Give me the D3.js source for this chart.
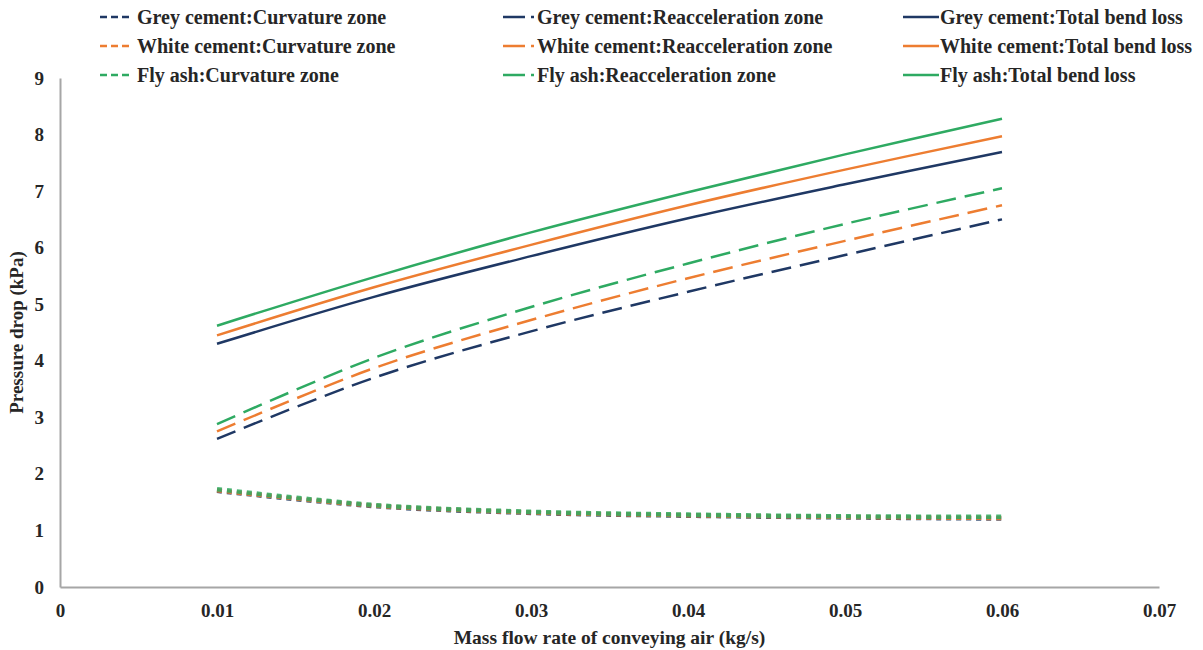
<!DOCTYPE html>
<html>
<head>
<meta charset="utf-8">
<script src="https://cdn.jsdelivr.net/npm/d3@7"></script>
<style>
  body { margin: 0; background: #fff; }
  svg { display: block; }
  text { font-family: "Liberation Serif", "Times New Roman", serif; font-weight: bold; fill: #262626; }
</style>
</head>
<body>
<svg id="chart" width="1203" height="650"></svg>
<script>
// Mass flow rate of conveying air (kg/s)
const massFlow = [0.01, 0.02, 0.03, 0.04, 0.05, 0.06];

// Pressure drop (kPa) per material and bend zone
const greyCurvature   = [2.62, 3.70, 4.52, 5.22, 5.87, 6.50];
const whiteCurvature  = [2.75, 3.87, 4.72, 5.46, 6.12, 6.75];
const flyCurvature    = [2.88, 4.05, 4.95, 5.72, 6.42, 7.05];

const greyReaccel     = [1.70, 1.43, 1.31, 1.26, 1.23, 1.21];
const whiteReaccel    = [1.71, 1.44, 1.32, 1.27, 1.24, 1.22];
const flyReaccel      = [1.73, 1.45, 1.33, 1.28, 1.25, 1.24];

const greyTotal       = [4.30, 5.13, 5.85, 6.52, 7.12, 7.69];
const whiteTotal      = [4.45, 5.30, 6.05, 6.75, 7.38, 7.97];
const flyTotal        = [4.62, 5.48, 6.27, 6.98, 7.65, 8.28];

const xTicks = [0, 0.01, 0.02, 0.03, 0.04, 0.05, 0.06, 0.07];
const yTicks = [0, 1, 2, 3, 4, 5, 6, 7, 8, 9];

const colGrey = "#1f3864", colWhite = "#ed7d31", colFly = "#2eaa62";

const series = [
  { name: "Grey cement:Curvature zone",      values: greyCurvature, color: colGrey,  kind: "dash" },
  { name: "White cement:Curvature zone",     values: whiteCurvature, color: colWhite, kind: "dash" },
  { name: "Fly ash:Curvature zone",          values: flyCurvature,  color: colFly,   kind: "dash" },
  { name: "Grey cement:Reacceleration zone", values: greyReaccel,   color: colGrey,  kind: "dot" },
  { name: "White cement:Reacceleration zone",values: whiteReaccel,  color: colWhite, kind: "dot" },
  { name: "Fly ash:Reacceleration zone",     values: flyReaccel,    color: colFly,   kind: "dot" },
  { name: "Grey cement:Total bend loss",     values: greyTotal,     color: colGrey,  kind: "solid" },
  { name: "White cement:Total bend loss",    values: whiteTotal,    color: colWhite, kind: "solid" },
  { name: "Fly ash:Total bend loss",         values: flyTotal,      color: colFly,   kind: "solid" }
];

const svg = d3.select("#chart");
const plotLeft = 60, plotRight = 1159, plotTop = 78, plotBottom = 587;

const x = d3.scaleLinear().domain([0, 0.07]).range([plotLeft, plotRight]);
const y = d3.scaleLinear().domain([0, 9]).range([plotBottom, plotTop]);

// Axes: grey spines, no tick marks
const xAxis = svg.append("g").attr("transform", `translate(0,${plotBottom})`)
  .call(d3.axisBottom(x).tickValues(xTicks).tickSize(0).tickPadding(17)
        .tickFormat(d => d === 0 ? "0" : d3.format(".2f")(d)));
const yAxis = svg.append("g").attr("transform", `translate(${plotLeft},0)`)
  .call(d3.axisLeft(y).tickValues(yTicks).tickSize(0).tickPadding(16).tickFormat(d3.format("d")));
[xAxis, yAxis].forEach(g => {
  g.select(".domain").attr("stroke", "#a6a6a6").attr("stroke-width", 2);
  g.selectAll("text").style("font-size", "19px").attr("fill", "#262626")
    .style("font-family", '"Liberation Serif", serif').style("font-weight", "bold");
});

svg.append("text")
  .attr("x", (plotLeft + plotRight) / 2).attr("y", 644)
  .attr("text-anchor", "middle").style("font-size", "19.5px")
  .text("Mass flow rate of conveying air (kg/s)");

svg.append("text")
  .attr("transform", `translate(23,${(plotTop + plotBottom) / 2}) rotate(-90)`)
  .attr("text-anchor", "middle").style("font-size", "19px")
  .text("Pressure drop (kPa)");

// Lines
const line = d3.line()
  .x((d, i) => x(massFlow[i]))
  .y(d => y(d))
  .curve(d3.curveCatmullRom.alpha(0.5));

const styleFor = {
  dash:  { width: 2.5, dash: "20,9" },
  dot:   { width: 4.5, dash: "5,5" },
  solid: { width: 2.5, dash: null }
};

svg.append("g").selectAll("path")
  .data(series)
  .join("path")
  .attr("d", d => line(d.values))
  .attr("fill", "none")
  .attr("stroke", d => d.color)
  .attr("stroke-width", d => styleFor[d.kind].width)
  .attr("stroke-dasharray", d => styleFor[d.kind].dash)
  .attr("stroke-opacity", d => d.kind === "dot" ? 0.85 : 1);

// Legend: three columns (curvature, reacceleration, total)
const legendCols = { dash: 100, dot: 503, solid: 903 };
const legendRows = [17, 46, 75];
const legend = svg.append("g");
series.forEach((s, i) => {
  const row = legendRows[i % 3];
  const x0 = legendCols[s.kind];
  const g = legend.append("g");
  let textX;
  if (s.kind === "dash") {
    g.append("line").attr("x1", x0).attr("x2", x0 + 32).attr("y1", row).attr("y2", row)
      .attr("stroke", s.color).attr("stroke-width", 2.5).attr("stroke-dasharray", "7,4");
    textX = x0 + 37;
  } else if (s.kind === "dot") {
    g.append("line").attr("x1", x0).attr("x2", x0 + 31).attr("y1", row).attr("y2", row)
      .attr("stroke", s.color).attr("stroke-width", 2.5).attr("stroke-dasharray", "22,6,3,40");
    textX = x0 + 34;
  } else {
    g.append("line").attr("x1", x0).attr("x2", x0 + 36).attr("y1", row).attr("y2", row)
      .attr("stroke", s.color).attr("stroke-width", 2.5);
    textX = x0 + 37;
  }
  g.append("text").attr("x", textX).attr("y", row).attr("dy", "0.35em")
    .style("font-size", "20px").text(s.name);
});
</script>
</body>
</html>
